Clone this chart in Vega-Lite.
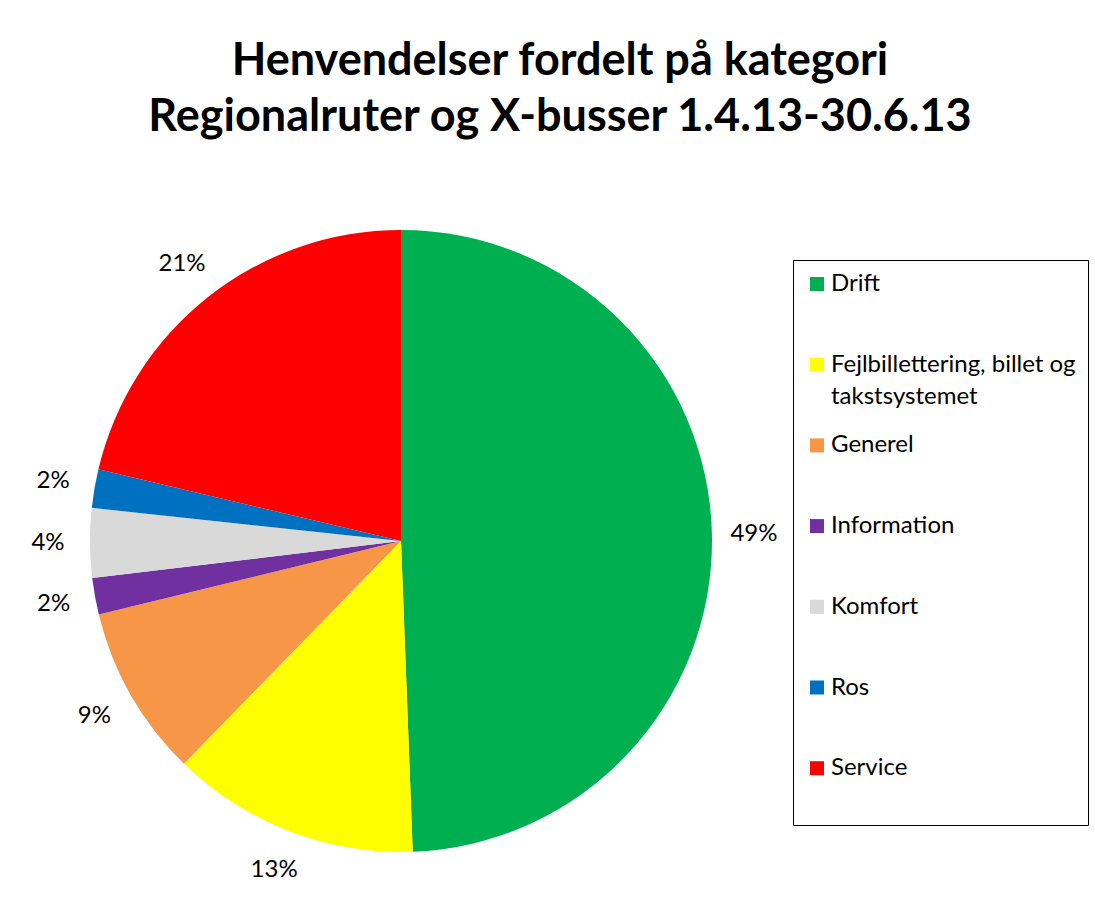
{
  "$schema": "https://vega.github.io/schema/vega-lite/v6.json",
  "width": 622,
  "height": 622,
  "autosize": {"type": "none"},
  "padding": {"left": 90, "top": 230, "right": 383, "bottom": 70},
  "background": "white",
  "config": {
    "view": {"stroke": null},
    "font": "Lato",
    "style": {"guide-label": {"lineHeight": 32}}
  },
  "title": {
    "text": ["Henvendelser fordelt på kategori", "Regionalruter og X-busser 1.4.13-30.6.13"],
    "font": "Lato",
    "fontSize": 45,
    "fontWeight": "bold",
    "color": "black",
    "anchor": "middle",
    "dx": 159,
    "lineHeight": 56,
    "offset": 90
  },
  "data": {
    "values": [
      {"kategori": "Drift", "andel": 0.494, "rk": 1},
      {"kategori": "Fejlbillettering, billet og takstsystemet", "andel": 0.129, "rk": 2},
      {"kategori": "Generel", "andel": 0.089, "rk": 3},
      {"kategori": "Information", "andel": 0.019, "rk": 4},
      {"kategori": "Komfort", "andel": 0.036, "rk": 5},
      {"kategori": "Ros", "andel": 0.020, "rk": 6},
      {"kategori": "Service", "andel": 0.213, "rk": 7}
    ]
  },
  "encoding": {
    "theta": {"field": "andel", "type": "quantitative", "stack": true},
    "order": {"field": "rk", "type": "quantitative"}
  },
  "layer": [
    {
      "mark": {"type": "arc", "outerRadius": 311},
      "encoding": {
        "color": {
          "field": "kategori",
          "type": "nominal",
          "scale": {
            "domain": ["Drift", "Fejlbillettering, billet og takstsystemet", "Generel", "Information", "Komfort", "Ros", "Service"],
            "range": ["#00B050", "#FFFF00", "#F79646", "#7030A0", "#D9D9D9", "#0070C0", "#FF0000"]
          },
          "legend": {
            "orient": "none",
            "legendX": 703,
            "legendY": 30,
            "title": null,
            "strokeColor": "black",
            "padding": 12,
            "symbolType": "square",
            "symbolSize": 196,
            "symbolStrokeWidth": 0,
            "labelFont": "Lato",
            "labelFontSize": 24,
            "labelColor": "black",
            "labelLimit": 400,
            "labelOffset": 2,
            "rowPadding": 24.7,
            "labelExpr": "datum.label == 'Fejlbillettering, billet og takstsystemet' ? ['Fejlbillettering, billet og', 'takstsystemet'] : [datum.label, '']"
          }
        }
      }
    },
    {
      "mark": {"type": "text", "radius": 353, "font": "Lato", "fontSize": 24, "color": "black"},
      "encoding": {
        "detail": {"field": "kategori", "type": "nominal"},
        "text": {"field": "andel", "type": "quantitative", "format": ".0%"}
      }
    }
  ]
}
